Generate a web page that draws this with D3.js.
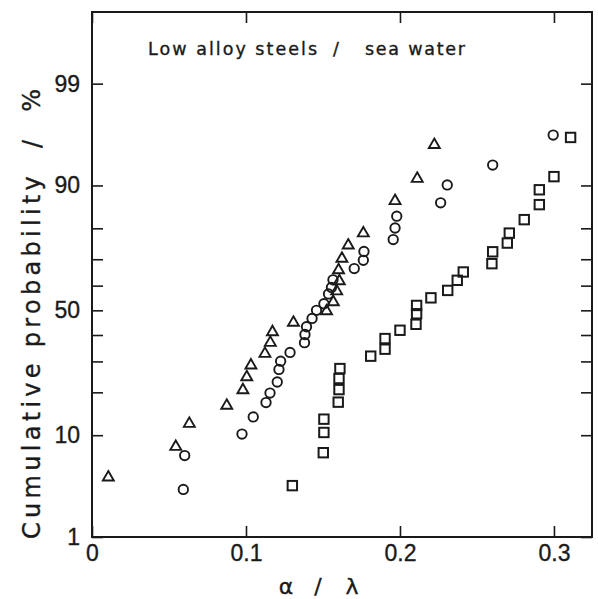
<!DOCTYPE html>
<html>
<head>
<meta charset="utf-8">
<script src="https://cdn.jsdelivr.net/npm/d3@7"></script>
<style>
  html, body { margin: 0; padding: 0; background: #fff; }
  svg { display: block; }
  text { fill: #1a1a1a; stroke: #1a1a1a; stroke-width: 0.35px; font-family: "DejaVu Sans", "Liberation Sans", sans-serif; }
</style>
</head>
<body>
<svg id="chart" width="598" height="599"></svg>
<script>
// ---- data ----
const triX = [0.0106,0.0544,0.0632,0.0875,0.0980,0.1005,0.1032,0.1123,0.1158,0.1172,0.1308,0.1523,0.1567,0.1589,0.1606,0.1601,0.1623,0.1664,0.1762,0.1968,0.2112,0.2223];
const triP = [4.4,8.2,12.4,16.6,20.9,24.9,28.9,33.1,37.3,41.5,45.3,50.0,53.7,58.1,62.1,66.3,70.5,75.0,78.8,87.1,91.3,95.6];

const circX = [0.0593,0.0602,0.0974,0.1047,0.1130,0.1156,0.1203,0.1214,0.1225,0.1286,0.1380,0.1383,0.1393,0.1429,0.1458,0.1506,0.1536,0.1555,0.1565,0.1703,0.1762,0.1766,0.1956,0.1968,0.1979,0.2264,0.2307,0.2602,0.2995];
const circP = [3.3,6.8,10.2,13.7,17.2,19.8,23.1,27.2,30.1,33.3,37.0,40.2,43.3,46.7,50.0,52.7,56.7,59.3,62.3,66.6,69.6,72.7,76.6,80.1,83.3,86.5,90.1,93.2,96.4];

const sqX = [0.1301,0.1502,0.1506,0.1506,0.1599,0.1604,0.1604,0.1610,0.1810,0.1903,0.1903,0.2000,0.2104,0.2108,0.2108,0.2201,0.2310,0.2372,0.2411,0.2597,0.2602,0.2697,0.2710,0.2807,0.2905,0.2905,0.3000,0.3108];
const sqP = [3.6,7.2,10.5,13.2,17.3,20.8,24.2,27.5,31.9,34.5,38.6,41.9,44.3,48.6,52.0,55.1,58.1,62.1,65.3,68.4,72.6,75.5,78.6,82.4,86.1,89.2,91.5,96.2];

const xTicks = [0, 0.1, 0.2, 0.3];
const xTickLabels = ["0", "0.1", "0.2", "0.3"];
const yTicks = [1, 10, 20, 30, 40, 50, 60, 70, 80, 90, 99];
const yLabeled = [1, 10, 50, 90, 99];
const xDomain = [0, 0.3247];
const yDomainP = [1, 99.89];

const titleParts = ["Low alloy steels", "/", "sea water"];
const xLabelParts = ["α", "/", "λ"];
const yLabelText = "Cumulative probability  /  %";

// ---- normal probability (probit) ----
function probit(p) {
  const a=[-3.969683028665376e+01,2.209460984245205e+02,-2.759285104469687e+02,1.383577518672690e+02,-3.066479806614716e+01,2.506628277459239e+00];
  const b=[-5.447609879822406e+01,1.615858368580409e+02,-1.556989798598866e+02,6.680131188771972e+01,-1.328068155288572e+01];
  const c=[-7.784894002430293e-03,-3.223964580411365e-01,-2.400758277161838e+00,-2.549732539343734e+00,4.374664141464968e+00,2.938163982698783e+00];
  const d=[7.784695709041462e-03,3.224671290700398e-01,2.445134137142996e+00,3.754408661907416e+00];
  const pl=0.02425, ph=1-pl;
  if (p < pl) { const q=Math.sqrt(-2*Math.log(p)); return (((((c[0]*q+c[1])*q+c[2])*q+c[3])*q+c[4])*q+c[5])/((((d[0]*q+d[1])*q+d[2])*q+d[3])*q+1); }
  if (p <= ph) { const q=p-0.5, r=q*q; return (((((a[0]*r+a[1])*r+a[2])*r+a[3])*r+a[4])*r+a[5])*q/(((((b[0]*r+b[1])*r+b[2])*r+b[3])*r+b[4])*r+1); }
  const q=Math.sqrt(-2*Math.log(1-p)); return -(((((c[0]*q+c[1])*q+c[2])*q+c[3])*q+c[4])*q+c[5])/((((d[0]*q+d[1])*q+d[2])*q+d[3])*q+1);
}
const z = pct => probit(pct / 100);

// ---- layout ----
const L = 92, R = 592, T = 12, B = 537;
const ink = "#1a1a1a";
const svg = d3.select("#chart");

const x = d3.scaleLinear().domain(xDomain).range([L, R]);
const yz = d3.scaleLinear().domain(yDomainP.map(z)).range([B, T]);
const y = pct => yz(z(pct));

const tick = 11;

// axes
const gL = svg.append("g").attr("transform", `translate(${L},0)`)
  .call(d3.axisLeft(yz).tickValues(yTicks.map(z)).tickSizeInner(-tick).tickSizeOuter(0).tickPadding(12)
    .tickFormat((d, i) => yLabeled.includes(yTicks[i]) ? String(yTicks[i]) : ""));
const gR = svg.append("g").attr("transform", `translate(${R},0)`)
  .call(d3.axisRight(yz).tickValues(yTicks.map(z)).tickSizeInner(-tick).tickSizeOuter(0).tickFormat(""));
const gB = svg.append("g").attr("transform", `translate(0,${B})`)
  .call(d3.axisBottom(x).tickValues(xTicks).tickSizeInner(-tick).tickSizeOuter(0).tickPadding(8)
    .tickFormat((d, i) => xTickLabels[i]));
const gT = svg.append("g").attr("transform", `translate(0,${T})`)
  .call(d3.axisTop(x).tickValues(xTicks).tickSizeInner(-tick).tickSizeOuter(0).tickFormat(""));

[gL, gR, gB, gT].forEach(g => {
  g.select(".domain").remove();
  g.selectAll(".tick line").attr("stroke", ink).attr("stroke-width", 1.6);
  g.selectAll(".tick text").attr("fill", ink).attr("stroke", ink).attr("stroke-width", 0.35)
    .style("font-size", "23px")
    .style("font-family", "'Liberation Sans', Arial, sans-serif");
});

// frame
svg.append("rect").attr("x", L).attr("y", T).attr("width", R - L).attr("height", B - T)
  .attr("fill", "none").attr("stroke", ink).attr("stroke-width", 2);

// markers
const sw = 1.9;
const tri = triX.map((v, i) => ({ x: v, p: triP[i] }));
const circ = circX.map((v, i) => ({ x: v, p: circP[i] }));
const sq = sqX.map((v, i) => ({ x: v, p: sqP[i] }));

svg.append("g").selectAll("circle").data(circ).join("circle")
  .attr("cx", d => x(d.x)).attr("cy", d => y(d.p)).attr("r", 4.7)
  .attr("fill", "none").attr("stroke", ink).attr("stroke-width", sw);

svg.append("g").selectAll("rect").data(sq).join("rect")
  .attr("x", d => x(d.x) - 4.7).attr("y", d => y(d.p) - 4.7).attr("width", 9.4).attr("height", 9.4)
  .attr("fill", "none").attr("stroke", ink).attr("stroke-width", 2);

const triPath = d3.symbol().type(d3.symbolTriangle).size(52);
svg.append("g").selectAll("path").data(tri).join("path")
  .attr("transform", d => `translate(${x(d.x)},${y(d.p) + 0.8})`).attr("d", triPath)
  .attr("fill", "none").attr("stroke", ink).attr("stroke-width", sw).attr("stroke-linejoin", "miter");

// title
const title = svg.append("text").attr("y", 55).style("font-size", "17.5px");
title.append("tspan").attr("x", 148).attr("textLength", 169).attr("lengthAdjust", "spacing").text(titleParts[0]);
title.append("tspan").attr("x", 333).text(titleParts[1]);
title.append("tspan").attr("x", 365).attr("textLength", 100).attr("lengthAdjust", "spacing").text(titleParts[2]);

// x label
const xl = svg.append("text").attr("y", 594).attr("text-anchor", "middle").style("font-size", "22px");
[286, 318, 352].forEach((px, i) => xl.append("tspan").attr("x", px).text(xLabelParts[i]));

// y label
svg.append("text").attr("transform", `translate(40,314) rotate(-90)`)
  .attr("x", -225).attr("textLength", 450).attr("lengthAdjust", "spacing")
  .style("font-size", "24px").style("white-space", "pre")
  .text(yLabelText);
</script>
</body>
</html>
